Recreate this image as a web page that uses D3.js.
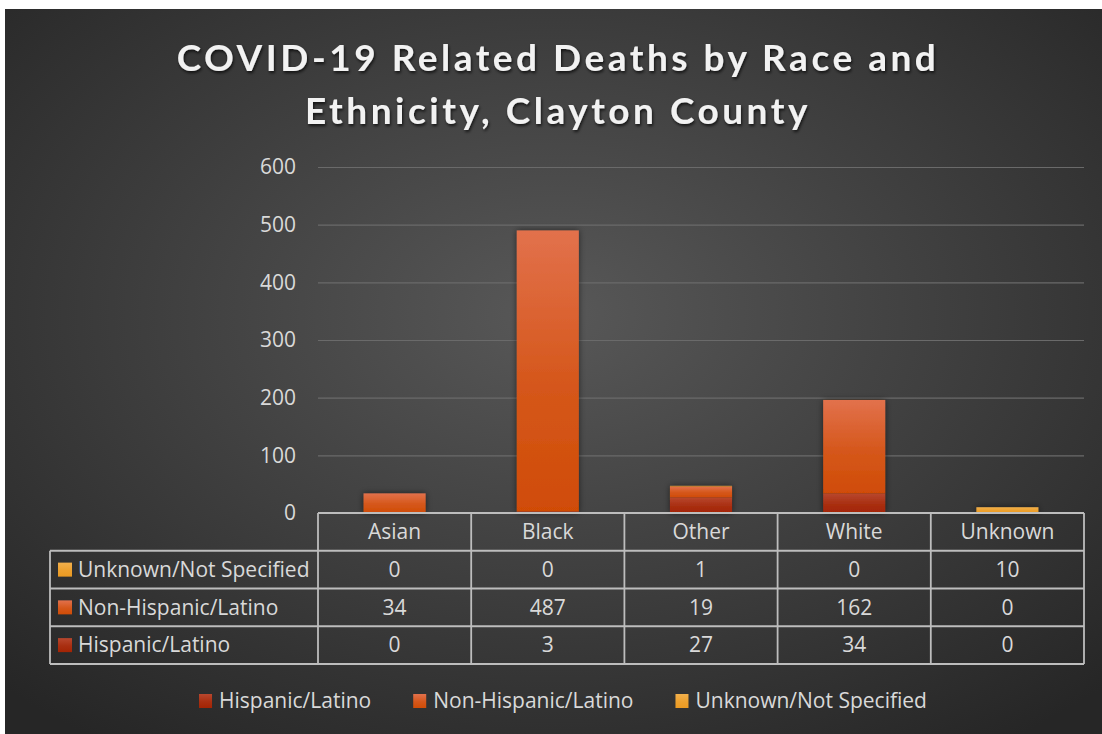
<!DOCTYPE html>
<html>
<head>
<meta charset="utf-8">
<script src="https://cdn.jsdelivr.net/npm/d3@7"></script>
<style>
  body { margin: 0; background: #fff; }
  svg { display: block; font-family: "Open Sans", Lato, sans-serif; }
</style>
</head>
<body>
<svg id="chart" width="1102" height="734"></svg>
<script>
// data
var categories = ["Asian", "Black", "Other", "White", "Unknown"];
var seriesNames = ["Hispanic/Latino", "Non-Hispanic/Latino", "Unknown/Not Specified"];
var hispanic = [0, 3, 27, 34, 0];
var nonHispanic = [34, 487, 19, 162, 0];
var unknownEth = [0, 0, 1, 0, 10];
var yTicks = [0, 100, 200, 300, 400, 500, 600];
var titleLines = ["COVID-19 Related Deaths by Race and", "Ethnicity, Clayton County"];

var colors = {
    "Hispanic/Latino": ["#b8472e", "#a32404"],
    "Non-Hispanic/Latino": ["#e2714c", "#d04c06"],
    "Unknown/Not Specified": ["#f2b04c", "#eb9a22"]
};

var fs = 21;

var svg = d3.select("#chart"),
    margin = {top: 167, right: 18, bottom: 221, left: 318},
    width = 1102 - margin.left - margin.right,
    height = 734 - margin.top - margin.bottom;

var defs = svg.append("defs");

var bg = defs.append("radialGradient").attr("id", "bg")
    .attr("cx", "50%").attr("cy", "42%").attr("r", "72%");
bg.append("stop").attr("offset", "0%").attr("stop-color", "#585858");
bg.append("stop").attr("offset", "100%").attr("stop-color", "#262626");

seriesNames.forEach(function (s, i) {
    var gr = defs.append("linearGradient").attr("id", "grad" + i)
        .attr("x1", 0).attr("y1", 0).attr("x2", 0).attr("y2", 1);
    gr.append("stop").attr("offset", "0%").attr("stop-color", colors[s][0]);
    gr.append("stop").attr("offset", "55%").attr("stop-color", d3.interpolateRgb(colors[s][0], colors[s][1])(0.7));
    gr.append("stop").attr("offset", "100%").attr("stop-color", colors[s][1]);
});

var shadow = defs.append("filter").attr("id", "barShadow")
    .attr("x", "-30%").attr("y", "-30%").attr("width", "160%").attr("height", "160%");
shadow.append("feDropShadow").attr("dx", 0).attr("dy", 0).attr("stdDeviation", 3)
    .attr("flood-color", "#000").attr("flood-opacity", 0.55);

var tshadow = defs.append("filter").attr("id", "titleShadow")
    .attr("x", "-10%").attr("y", "-30%").attr("width", "120%").attr("height", "160%");
tshadow.append("feDropShadow").attr("dx", 1).attr("dy", 2).attr("stdDeviation", 1.5)
    .attr("flood-color", "#000").attr("flood-opacity", 0.7);

svg.append("rect")
    .attr("x", 5).attr("y", 9).attr("width", 1097).attr("height", 725)
    .attr("fill", "url(#bg)");

// title
svg.append("g").attr("filter", "url(#titleShadow)")
    .selectAll("text")
    .data(titleLines)
    .enter().append("text")
    .attr("x", 558)
    .attr("y", function (d, i) { return 71 + i * 53; })
    .attr("text-anchor", "middle")
    .attr("fill", "#f2f2f2")
    .attr("font-family", "Lato, sans-serif")
    .attr("font-weight", "bold")
    .attr("font-size", 37)
    .attr("letter-spacing", 3.5)
    .text(function (d) { return d; });

var g = svg.append("g")
    .attr("transform", "translate(" + margin.left + "," + margin.top + ")");

var x = d3.scaleBand().domain(categories).range([0, width]);
var y = d3.scaleLinear().domain([0, 600]).range([height, 0]);

// gridlines + y labels
var yAxis = g.append("g")
    .attr("class", "y axis")
    .call(d3.axisLeft(y).tickValues(yTicks).tickSizeInner(-width).tickSizeOuter(0).tickPadding(22));
yAxis.select(".domain").remove();
yAxis.selectAll(".tick line").attr("stroke", "#6a6a6a").attr("stroke-width", 1.2);
yAxis.selectAll(".tick text")
    .attr("fill", "#d9d9d9")
    .attr("font-size", fs)
    .attr("font-family", "\"Open Sans\", sans-serif");

// stacked bars
var rows = categories.map(function (c, i) {
    return {cat: c, "Hispanic/Latino": hispanic[i], "Non-Hispanic/Latino": nonHispanic[i], "Unknown/Not Specified": unknownEth[i]};
});
var stacked = d3.stack().keys(seriesNames)(rows);
var barW = x.bandwidth() * 0.405;

var barG = g.append("g").attr("filter", "url(#barShadow)");
barG.selectAll(".series")
    .data(stacked)
    .enter().append("g")
    .attr("class", "series")
    .attr("fill", function (d, i) { return "url(#grad" + i + ")"; })
    .selectAll("rect")
    .data(function (d) { return d; })
    .enter().append("rect")
    .attr("x", function (d) { return x(d.data.cat) + (x.bandwidth() - barW) / 2; })
    .attr("width", barW)
    .attr("y", function (d) { return y(d[1]); })
    .attr("height", function (d) { return y(d[0]) - y(d[1]); });

// data table
var tableRows = ["header"].concat(seriesNames.slice().reverse());
var tableVals = {
    "Unknown/Not Specified": unknownEth,
    "Non-Hispanic/Latino": nonHispanic,
    "Hispanic/Latino": hispanic
};
var r = d3.scaleBand().domain(tableRows).range([height, height + 151]);
var legLeft = 50 - margin.left;
var lineColor = "#bdbdbd";
var tbl = g.append("g").attr("class", "table");

// horizontal lines
tableRows.concat(["end"]).forEach(function (row, i) {
    var yy = row === "end" ? r.range()[1] : r(row);
    tbl.append("line")
        .attr("x1", i <= 0 ? 0 : legLeft).attr("x2", width)
        .attr("y1", yy).attr("y2", yy)
        .attr("stroke", lineColor).attr("stroke-width", 1.8);
});
// vertical lines
var vxs = categories.map(function (c) { return x(c); }).concat([width]);
vxs.forEach(function (vx) {
    tbl.append("line")
        .attr("x1", vx).attr("x2", vx)
        .attr("y1", r.range()[0]).attr("y2", r.range()[1])
        .attr("stroke", lineColor).attr("stroke-width", 1.8);
});
tbl.append("line")
    .attr("x1", legLeft).attr("x2", legLeft)
    .attr("y1", r(tableRows[1])).attr("y2", r.range()[1])
    .attr("stroke", lineColor).attr("stroke-width", 1.8);

// header
tbl.selectAll(".hdr")
    .data(categories)
    .enter().append("text")
    .attr("class", "hdr")
    .attr("x", function (d) { return x(d) + x.bandwidth() / 2; })
    .attr("y", r("header") + r.bandwidth() / 2)
    .attr("dy", "0.35em")
    .attr("text-anchor", "middle")
    .attr("fill", "#d9d9d9")
    .attr("font-size", fs)
    .text(function (d) { return d; });

seriesNames.forEach(function (s) {
    var si = seriesNames.indexOf(s);
    var cy = r(s) + r.bandwidth() / 2;
    tbl.append("rect")
        .attr("x", legLeft + 8).attr("y", cy - 7)
        .attr("width", 14).attr("height", 14)
        .attr("fill", "url(#grad" + si + ")");
    tbl.append("text")
        .attr("x", legLeft + 28).attr("y", cy)
        .attr("dy", "0.35em")
        .attr("fill", "#d9d9d9")
        .attr("font-size", fs)
        .text(s);
    tbl.selectAll(".v" + si)
        .data(tableVals[s])
        .enter().append("text")
        .attr("x", function (d, i) { return x(categories[i]) + x.bandwidth() / 2; })
        .attr("y", cy)
        .attr("dy", "0.35em")
        .attr("text-anchor", "middle")
        .attr("fill", "#d9d9d9")
        .attr("font-size", fs)
        .text(function (d) { return d; });
});

// bottom legend
var legend = svg.append("g").attr("class", "legend");
var items = legend.selectAll(".item")
    .data(seriesNames)
    .enter().append("g")
    .attr("class", "item");
items.append("rect")
    .attr("y", 694).attr("width", 13).attr("height", 14)
    .attr("fill", function (d, i) { return "url(#grad" + i + ")"; });
items.append("text")
    .attr("x", 20).attr("y", 701)
    .attr("dy", "0.35em")
    .attr("fill", "#d9d9d9")
    .attr("font-size", fs)
    .text(function (d) { return d; });
var widths = [];
items.each(function () {
    widths.push(20 + d3.select(this).select("text").node().getComputedTextLength());
});
var gap = 42;
var total = d3.sum(widths) + gap * (widths.length - 1);
var lx = 563 - total / 2;
items.attr("transform", function (d, i) {
    var t = "translate(" + lx + ",0)";
    lx += widths[i] + gap;
    return t;
});
</script>
</body>
</html>
